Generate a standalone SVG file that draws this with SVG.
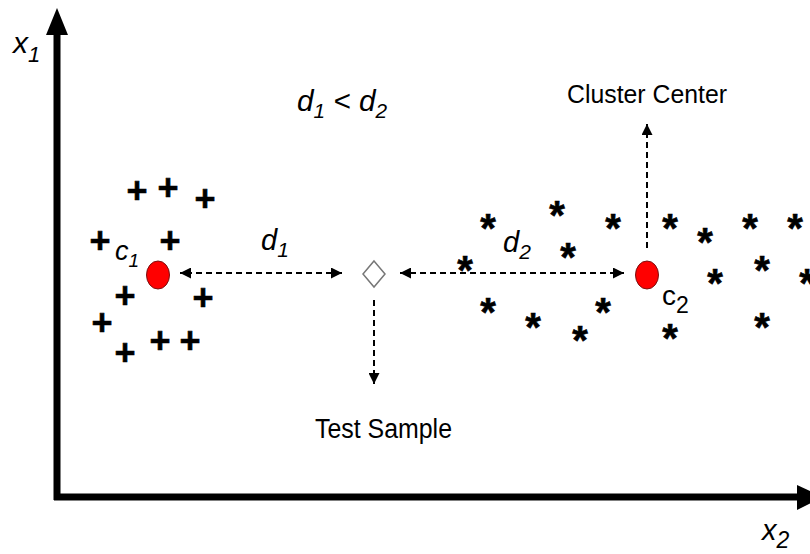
<svg xmlns="http://www.w3.org/2000/svg" width="810" height="554" viewBox="0 0 810 554">
<defs>
<style>
.lbl{font-family:"Liberation Sans",Arial,sans-serif;fill:#000}
.it{font-style:italic}
.pl{font-family:"Liberation Sans",Arial,sans-serif;font-weight:bold;font-size:36px;text-anchor:middle;fill:#000;stroke:#000;stroke-width:0.6}
.st{font-family:"Liberation Sans",Arial,sans-serif;font-weight:bold;font-size:40px;text-anchor:middle;fill:#000;stroke:#000;stroke-width:0.6}
.dash{stroke:#000;stroke-width:2;stroke-dasharray:6 4;fill:none}
.ctr{fill:#ff0000;stroke:#7a1010;stroke-width:1}
</style>
<marker id="ah" viewBox="0 0 10 10" refX="10" refY="5" markerWidth="5.5" markerHeight="5.5" orient="auto-start-reverse">
<path d="M0,0 L10,5 L0,10 z" fill="#000"/>
</marker>
</defs>
<rect width="810" height="554" fill="#fff"/>
<g id="axes">
<line x1="57" y1="500" x2="57" y2="30" stroke="#000" stroke-width="7"/>
<polygon points="57,8 46,35 68,35" fill="#000"/>
<line x1="54" y1="497" x2="800" y2="497" stroke="#000" stroke-width="7"/>
<polygon points="823,497 797,485 797,510" fill="#000"/>
<text class="lbl it" x="13" y="53" font-size="30">x<tspan font-size="22" dy="9">1</tspan></text>
<text class="lbl it" x="762" y="540" font-size="29">x<tspan font-size="23" dy="8">2</tspan></text>
</g>
<g id="connectors">
<line class="dash" x1="342" y1="273" x2="180" y2="273" marker-end="url(#ah)" marker-start="url(#ah)"/>
<line class="dash" x1="400" y1="273" x2="624" y2="273" marker-end="url(#ah)" marker-start="url(#ah)"/>
<line class="dash" x1="374" y1="300" x2="374" y2="384" marker-end="url(#ah)"/>
<line class="dash" x1="647" y1="248" x2="647" y2="124" marker-end="url(#ah)"/>
</g>
<g id="cluster1">
<text class="pl" x="137" y="203">+</text>
<text class="pl" x="168" y="200">+</text>
<text class="pl" x="205" y="211">+</text>
<text class="pl" x="100" y="253">+</text>
<text class="pl" x="170" y="253">+</text>
<text class="pl" x="125" y="308">+</text>
<text class="pl" x="203" y="310">+</text>
<text class="pl" x="102" y="335">+</text>
<text class="pl" x="160" y="353">+</text>
<text class="pl" x="190" y="353">+</text>
<text class="pl" x="125" y="365">+</text>
</g>
<g id="c1">
<ellipse class="ctr" cx="158" cy="275" rx="11.5" ry="14"/>
<text class="lbl it" x="115" y="260" font-size="27">c<tspan font-size="19" dy="7">1</tspan></text>
</g>
<g id="cluster2">
<text class="st" x="488" y="242">*</text>
<text class="st" x="557" y="229">*</text>
<text class="st" x="613" y="242">*</text>
<text class="st" x="568" y="271">*</text>
<text class="st" x="465" y="284">*</text>
<text class="st" x="488" y="326">*</text>
<text class="st" x="533" y="341">*</text>
<text class="st" x="580" y="354">*</text>
<text class="st" x="603" y="326">*</text>
<text class="st" x="670" y="242">*</text>
<text class="st" x="705" y="256">*</text>
<text class="st" x="750" y="242">*</text>
<text class="st" x="795" y="242">*</text>
<text class="st" x="762" y="284">*</text>
<text class="st" x="715" y="297">*</text>
<text class="st" x="807" y="297">*</text>
<text class="st" x="670" y="352">*</text>
<text class="st" x="762" y="341">*</text>
</g>
<g id="c2">
<ellipse class="ctr" cx="647" cy="275" rx="11.5" ry="14"/>
<text class="lbl" x="662" y="305" font-size="28">c<tspan font-size="23" dy="8">2</tspan></text>
</g>
<g id="test-sample">
<polygon points="374,261 385,274 374,287 363,274" fill="#fff" stroke="#777" stroke-width="1.5"/>
</g>
<g id="labels">
<text class="lbl it" x="297" y="111" font-size="30" textLength="90" lengthAdjust="spacingAndGlyphs">d<tspan font-size="21" dy="7">1</tspan><tspan dy="-7"> &lt; </tspan>d<tspan font-size="21" dy="7">2</tspan></text>
<text class="lbl it" x="261" y="250" font-size="29">d<tspan font-size="21" dy="7">1</tspan></text>
<text class="lbl it" x="503" y="252" font-size="29">d<tspan font-size="21" dy="7">2</tspan></text>
<text class="lbl" x="567" y="103" font-size="26" textLength="160" lengthAdjust="spacingAndGlyphs">Cluster Center</text>
<text class="lbl" x="315" y="438" font-size="27" textLength="137" lengthAdjust="spacingAndGlyphs">Test Sample</text>
</g>
</svg>
